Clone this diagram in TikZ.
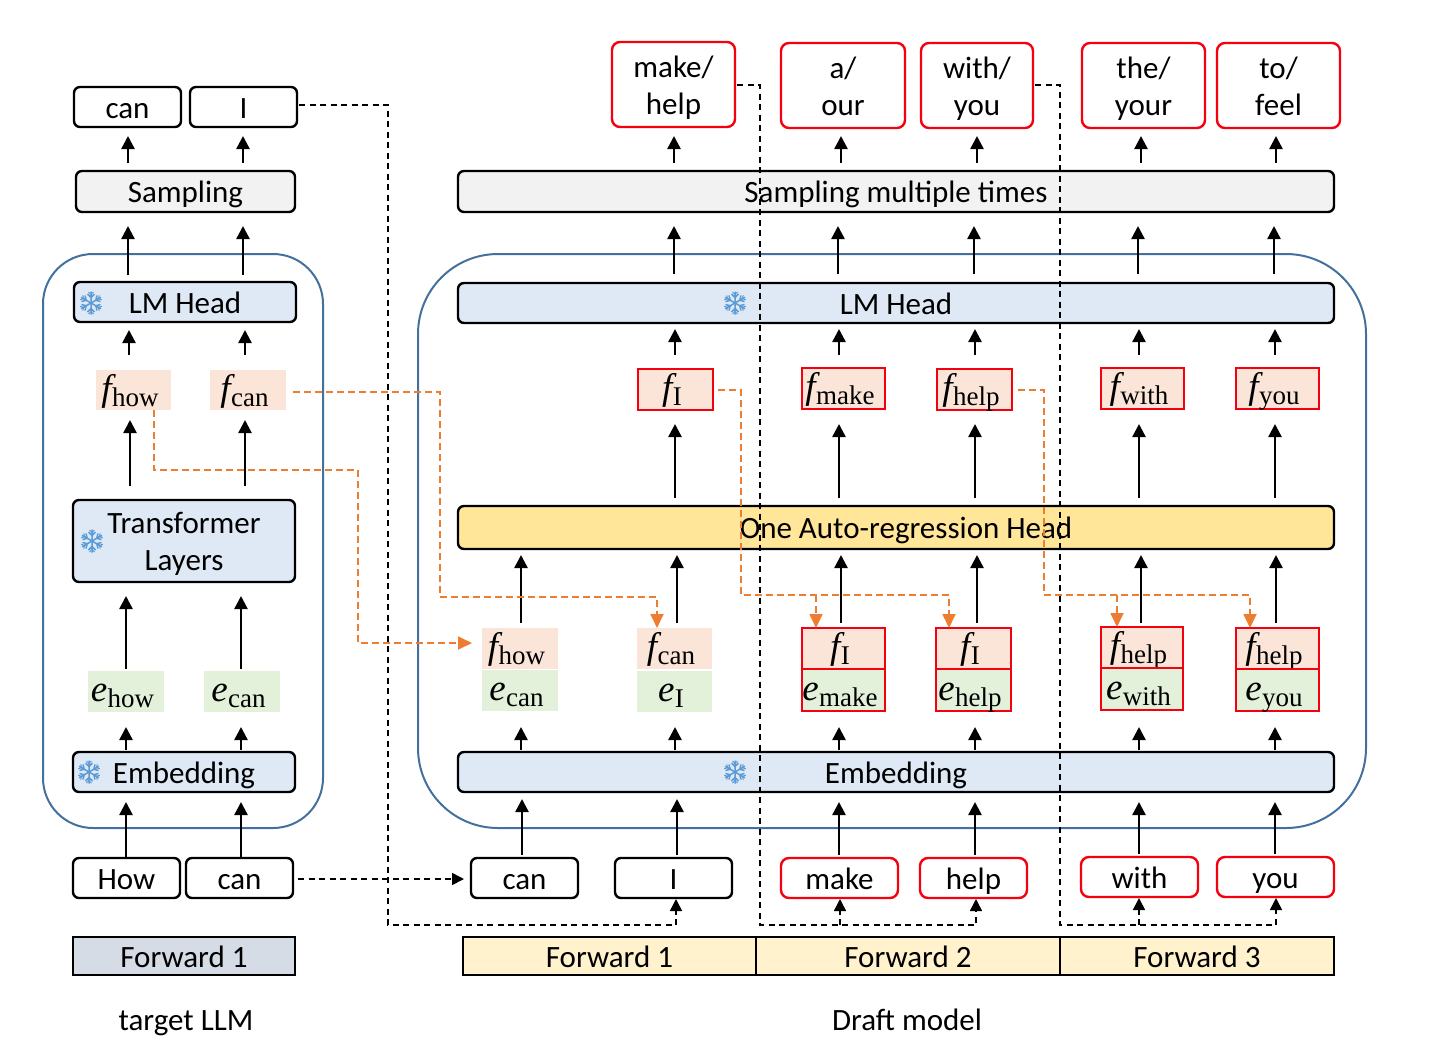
\documentclass[tikz,border=0pt]{standalone}
\usepackage{fontspec}
\setmainfont{Carlito}
\newfontfamily\srf{Liberation Serif}
\usetikzlibrary{arrows.meta}
\definecolor{pfill}{HTML}{FAE5D8}
\definecolor{gfill}{HTML}{E3F0DA}
\definecolor{bfill}{HTML}{DEE9F5}
\definecolor{yfill}{HTML}{FFE699}
\definecolor{sfill}{HTML}{F2F2F2}
\definecolor{gyfill}{HTML}{D6DCE5}
\definecolor{ffill}{HTML}{FFF2CC}
\definecolor{ring}{HTML}{44709D}
\definecolor{orng}{HTML}{ED7D31}
\definecolor{flk}{HTML}{5B9BD5}
\definecolor{redb}{HTML}{F5000F}
\newcommand{\mystrut}{\rule[-7.5pt]{0pt}{37pt}}
\newcommand{\toptall}{\rule{0pt}{30.3pt}}
\tikzset{
  x=1pt,y=-1pt,
  base/.style={inner sep=0pt,outer sep=0pt,align=center,font=\fontsize{31}{37}\selectfont,
    execute at begin node=\mystrut,execute at end node=\mystrut},
  blackbox/.style={base,draw=black,line width=2.4pt,rounded corners=6pt},
  tok/.style={blackbox,fill=white},
  redtok/.style={base,draw=redb,line width=2.4pt,rounded corners=8pt,fill=white},
  bluebar/.style={blackbox,fill=bfill},
  graybar/.style={blackbox,fill=sfill},
  autobar/.style={blackbox,fill=yfill},
  pcell/.style={base,fill=pfill},
  gcell/.style={base,fill=gfill},
  pred/.style={pcell,draw=redb,line width=2.4pt},
  gred/.style={gcell,draw=redb,line width=2.4pt},
  fwd/.style={base,draw=black,line width=2.4pt},
  captxt/.style={base},
  ringbox/.style={draw=ring,line width=2pt},
  arr/.style={-{Triangle[width=13pt,length=13pt]},line width=2.4pt,black},
  blkd/.style={line width=1.6pt,black,dash pattern=on 6pt off 4.5pt},
  blkdar/.style={blkd,-{Triangle[width=12pt,length=12pt]}},
  orgd/.style={line width=1.8pt,orng,dash pattern=on 6.5pt off 4.5pt},
  orgdar/.style={orgd,-{Triangle[width=13pt,length=14pt]}},
  flake/.pic={
    \foreach \a in {0,60,...,300}{
      \draw[rotate=\a,flk,line width=1.5pt] (0,0)--(0,11.5) (-3.5,9)--(0,5.5)--(3.5,9);
      \draw[rotate=\a,flk,line width=1pt] (-2.5,11)--(0,8.5)--(2.5,11);
    }
  }
}
\newcommand{\bx}[6]{\node[#1,minimum width=#4-#2,minimum height=#5-#3] (#6) at ({(#2+#4)/2},{(#3+#5)/2})}
\newcommand{\fv}[2]{\kern-7pt\smash{\raisebox{0.6pt}{{\srf\fontsize{37}{37}\selectfont\itshape #1}\kern0.5pt\raisebox{-6pt}{\srf\fontsize{27}{27}\selectfont #2}}}}
\newcommand{\upar}[5]{\draw[arr,shorten <=#4pt,shorten >=#5pt] (#2.north -| #1,0) -- (#3.south -| #1,0);}
\begin{document}
\begin{tikzpicture}
\useasboundingbox (0,0) rectangle (1440,1058);
% containers
\node[ringbox,rounded corners=50pt,minimum width=280,minimum height=574,inner sep=0pt] (ringL) at (183,541) {};
\node[ringbox,rounded corners=80pt,minimum width=948,minimum height=574,inner sep=0pt] (ringR) at (892,541) {};
% left column
\bx{tok}{74}{87}{181}{127}{tcan} {can};
\bx{tok}{190}{87}{297}{127}{tI} {I};
\bx{graybar}{76}{171}{295}{212}{sampL} {Sampling};
\bx{bluebar}{74}{282}{296}{322}{lmL} {LM Head};
\bx{pcell}{96}{370}{171}{410}{fhowL} {\fv{f}{how}};
\bx{pcell}{210}{370}{286}{410}{fcanL} {\fv{f}{can}};
\bx{bluebar}{73}{500}{295}{582}{trans} {\toptall Transformer\\Layers};
\bx{gcell}{88}{671}{164}{712}{ehowL} {\fv{e}{how}};
\bx{gcell}{204}{671}{280}{712}{ecanL} {\fv{e}{can}};
\bx{bluebar}{73}{752}{295}{792}{embL} {Embedding};
\bx{tok}{73}{858}{180}{898}{bhow} {How};
\bx{tok}{186}{858}{293}{898}{bcan} {can};
\bx{fwd,fill=gyfill}{73}{937}{295}{975}{fwdL} {Forward 1};
\node[captxt] (capL) at (186,1019) {target LLM};
\pic at (91,303) {flake};
\pic at (92,541) {flake};
\pic at (89,772) {flake};
% left arrows
\upar{128}{sampL}{tcan}{8}{9}
\upar{243}{sampL}{tI}{8}{9}
\upar{128}{lmL}{sampL}{7}{14}
\upar{243}{lmL}{sampL}{7}{14}
\upar{129}{fhowL}{lmL}{15}{8}
\upar{245}{fcanL}{lmL}{15}{8}
\upar{130}{trans}{fhowL}{14}{10}
\upar{245}{trans}{fcanL}{14}{10}
\upar{126}{ehowL}{trans}{2}{14}
\upar{241}{ecanL}{trans}{2}{14}
\upar{126}{embL}{ehowL}{2}{15}
\upar{241}{embL}{ecanL}{2}{15}
\upar{126}{bhow}{embL}{1}{10}
\upar{241}{bcan}{embL}{1}{10}
% right top tokens
\bx{redtok}{612}{42}{735}{127}{t1} {\toptall make/\\help};
\bx{redtok}{781}{43}{905}{128}{t2} {\toptall a/\\our};
\bx{redtok}{921}{43}{1033}{128}{t3} {\toptall with/\\you};
\bx{redtok}{1082}{43}{1205}{128}{t4} {\toptall the/\\your};
\bx{redtok}{1217}{43}{1340}{128}{t5} {\toptall to/\\feel};
\bx{graybar}{458}{171}{1334}{212}{sampR} {Sampling multiple times};
\bx{bluebar}{458}{283}{1334}{323}{lmR} {LM Head};
\pic at (735,303) {flake};
\bx{pred}{638}{369}{713}{410}{f1} {\fv{f}{I}};
\bx{pred}{802}{368}{885}{409}{f2} {\fv{f}{make}};
\bx{pred}{937}{369}{1012}{410}{f3} {\fv{f}{help}};
\bx{pred}{1101}{368}{1184}{409}{f4} {\fv{f}{with}};
\bx{pred}{1236}{368}{1319}{409}{f5} {\fv{f}{you}};
\bx{autobar}{458}{506}{1334}{549}{auto} {\hspace{20pt}One Auto-regression Head};
\bx{pcell}{482}{628}{558}{669}{lf1} {\fv{f}{how}};
\bx{gcell}{482}{670}{558}{711}{le1} {\fv{e}{can}};
\bx{pcell}{637}{628}{712}{669}{lf2} {\fv{f}{can}};
\bx{gcell}{637}{671}{712}{712}{le2} {\fv{e}{I}};
\bx{pred}{802}{628}{885}{669}{lf3} {\fv{f}{I}};
\bx{gred}{802}{669}{885}{711}{le3} {\fv{e}{make}};
\bx{pred}{936}{628}{1011}{669}{lf4} {\fv{f}{I}};
\bx{gred}{936}{669}{1011}{711}{le4} {\fv{e}{help}};
\bx{pred}{1101}{627}{1183}{668}{lf5} {\fv{f}{help}};
\bx{gred}{1101}{668}{1183}{710}{le5} {\fv{e}{with}};
\bx{pred}{1236}{628}{1319}{669}{lf6} {\fv{f}{help}};
\bx{gred}{1236}{669}{1319}{711}{le6} {\fv{e}{you}};
\bx{bluebar}{458}{752}{1334}{792}{embR} {Embedding};
\pic at (735,772) {flake};
\bx{tok}{471}{858}{578}{898}{b1} {can};
\bx{tok}{615}{858}{732}{898}{b2} {I};
\bx{redtok}{781}{858}{898}{898}{b3} {make};
\bx{redtok}{920}{858}{1027}{898}{b4} {help};
\bx{redtok}{1081}{857}{1198}{897}{b5} {with};
\bx{redtok}{1217}{857}{1334}{897}{b6} {you};
\bx{fwd,fill=ffill}{463}{937}{756}{975}{fw1} {Forward 1};
\bx{fwd,fill=ffill}{756}{937}{1060}{975}{fw2} {Forward 2};
\bx{fwd,fill=ffill}{1060}{937}{1334}{975}{fw3} {Forward 3};
\node[captxt] (capR) at (907,1019) {Draft model};
% right arrows
\upar{674}{sampR}{t1}{8}{9}
\upar{841}{sampR}{t2}{8}{8}
\upar{977}{sampR}{t3}{8}{8}
\upar{1141}{sampR}{t4}{8}{8}
\upar{1276}{sampR}{t5}{8}{8}
\upar{674}{lmR}{sampR}{9}{14}
\upar{838}{lmR}{sampR}{9}{14}
\upar{974}{lmR}{sampR}{9}{14}
\upar{1138}{lmR}{sampR}{9}{14}
\upar{1274}{lmR}{sampR}{9}{14}
\upar{675}{f1}{lmR}{14}{6}
\upar{839}{f2}{lmR}{13}{6}
\upar{975}{f3}{lmR}{14}{6}
\upar{1139}{f4}{lmR}{13}{6}
\upar{1275}{f5}{lmR}{13}{6}
\upar{675}{auto}{f1}{8}{14}
\upar{839}{auto}{f2}{8}{15}
\upar{975}{auto}{f3}{8}{14}
\upar{1139}{auto}{f4}{8}{15}
\upar{1275}{auto}{f5}{8}{15}
\upar{521}{lf1}{auto}{5}{6}
\upar{677}{lf2}{auto}{5}{6}
\upar{841}{lf3}{auto}{5}{6}
\upar{977}{lf4}{auto}{5}{6}
\upar{1141}{lf5}{auto}{4}{6}
\upar{1276}{lf6}{auto}{5}{6}
\upar{521}{embR}{le1}{2}{16}
\upar{675}{embR}{le2}{2}{15}
\upar{839}{embR}{le3}{2}{16}
\upar{975}{embR}{le4}{2}{16}
\upar{1139}{embR}{le5}{2}{17}
\upar{1275}{embR}{le6}{2}{16}
\upar{522}{b1}{embR}{3}{7}
\upar{677}{b2}{embR}{3}{7}
\upar{839}{b3}{embR}{3}{10}
\upar{975}{b4}{embR}{3}{10}
\upar{1139}{b5}{embR}{3}{10}
\upar{1275}{b6}{embR}{3}{10}
% black dashed connectors
\draw[blkdar,shorten <=2pt,shorten >=1pt] (tI.east |- 0,105) -- (388,105) -- (388,925) -- (676,925) -- (b2.south -| 676,0);
\draw[blkdar,shorten <=5pt,shorten >=7pt] (bcan.east |- 0,879) -- (b1.west |- 0,879);
\draw[blkdar,shorten <=2pt,shorten >=1pt] (t1.east |- 0,85) -- (760,85) -- (760,925) -- (976,925) -- (b4.south -| 976,0);
\draw[blkdar,shorten >=1pt] (840,925) -- (b3.south -| 840,0);
\draw[blkdar,shorten <=2pt,shorten >=1pt] (t3.east |- 0,85) -- (1060,85) -- (1060,925) -- (1276,925) -- (b6.south -| 1276,0);
\draw[blkdar,shorten >=1pt] (1139,925) -- (b5.south -| 1139,0);
% orange dashed connectors
\draw[orgdar,shorten <=7pt] (fcanL.east |- 0,392) -- (440,392) -- (440,597) -- (657,597) -- (lf2.north -| 657,0);
\draw[orgdar,shorten >=10pt] (fhowL.south -| 154,0) -- (154,470) -- (358,470) -- (358,643) -- (lf1.west |- 0,643);
\draw[orgdar,shorten <=5pt] (f1.east |- 0,390) -- (741,390) -- (741,595) -- (949,595) -- (lf4.north -| 949,0);
\draw[orgdar] (816,595) -- (lf3.north -| 816,0);
\draw[orgdar,shorten <=6pt] (f3.east |- 0,390) -- (1044,390) -- (1044,595) -- (1250,595) -- (lf6.north -| 1250,0);
\draw[orgdar] (1117,595) -- (lf5.north -| 1117,0);
\end{tikzpicture}
\end{document}
